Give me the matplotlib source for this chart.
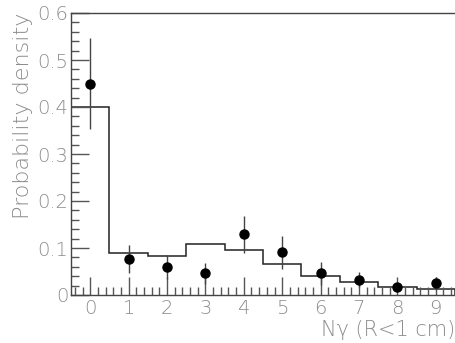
import matplotlib
matplotlib.use("Agg")
import matplotlib.pyplot as plt
from matplotlib.ticker import MultipleLocator
import numpy as np

# data
n_gamma = [0, 1, 2, 3, 4, 5, 6, 7, 8, 9]
mc_density = [0.400, 0.089, 0.082, 0.108, 0.096, 0.067, 0.041, 0.028, 0.018, 0.013]
data_density = [0.450, 0.076, 0.060, 0.046, 0.129, 0.091, 0.046, 0.032, 0.017, 0.025]
data_err = [0.097, 0.030, 0.025, 0.023, 0.040, 0.035, 0.024, 0.016, 0.008, 0.014]
x_ticks = [0, 1, 2, 3, 4, 5, 6, 7, 8, 9]
y_ticks = [0, 0.1, 0.2, 0.3, 0.4, 0.5, 0.6]
y_tick_labels = ["0", "0.1", "0.2", "0.3", "0.4", "0.5", "0.6"]

W, H = 456, 343
fig = plt.figure(figsize=(W / 100, H / 100), dpi=100)
ax = fig.add_axes([71 / W, 1 - 295 / H, (455 - 71) / W, (295 - 13) / H])

label_color = "#8c8c8c"
font = "DejaVu Sans"
weight = "light"

# histogram (MC)
edges = np.arange(-0.5, 10.0, 1.0)
ax.stairs(mc_density, edges, color="#222222", lw=1.1)

# data points
ax.errorbar(n_gamma, data_density, yerr=data_err, fmt="o", color="black",
            ms=6.5, ecolor="#444444", elinewidth=1.0, capsize=0, zorder=3)

ax.set_xlim(-0.5, 9.5)
ax.set_ylim(0, 0.6)

ax.set_xticks(x_ticks)
ax.set_yticks(y_ticks)
ax.set_yticklabels(y_tick_labels)
ax.xaxis.set_minor_locator(MultipleLocator(0.2))
ax.yaxis.set_minor_locator(MultipleLocator(0.02))

ax.tick_params(axis="both", which="major", direction="in", length=13, width=1.0,
               color="#555555", labelcolor=label_color, labelsize=14)
ax.tick_params(axis="both", which="minor", direction="in", length=6, width=1.0,
               color="#555555")
ax.tick_params(axis="x", which="both", top=False, pad=3)
ax.tick_params(axis="y", which="both", right=False, pad=2)
for lab in ax.get_xticklabels() + ax.get_yticklabels():
    lab.set_fontfamily(font)
    lab.set_fontweight(weight)

ax.spines["right"].set_visible(False)
for s in ["left", "bottom", "top"]:
    ax.spines[s].set_color("#444444")
    ax.spines[s].set_linewidth(1.0)

ax.set_ylabel("Probability density", fontsize=16, color=label_color,
              family=font, weight=weight, loc="top", labelpad=3)
ax.set_xlabel("N\u03b3 (R<1 cm)", fontsize=15, color=label_color,
              family=font, weight=weight, loc="right", labelpad=1)

fig.savefig("out.png", dpi=100)
